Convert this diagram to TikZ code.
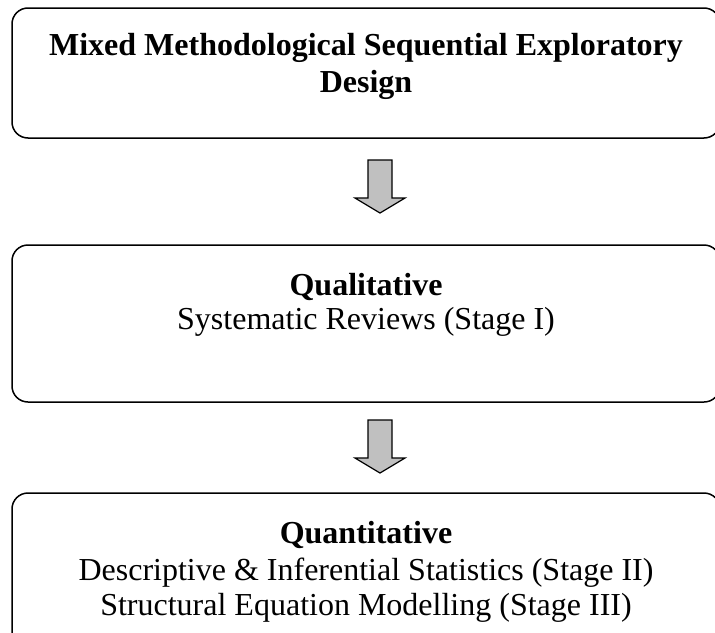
\documentclass[tikz,border=0pt]{standalone}
\usepackage{fontspec}
\setmainfont{Liberation Serif}
\usetikzlibrary{positioning}

\definecolor{arrowgray}{RGB}{192,192,192}

\tikzset{
  stagebox/.style={draw, line width=1.5pt, rounded corners=16pt, inner sep=0pt},
  boxtext/.style={anchor=base, inner sep=0pt, font=\fontsize{32}{37}\selectfont},
  boxhead/.style={boxtext, font=\fontsize{32}{37}\selectfont\bfseries},
  downarrow/.style={draw, line width=1.2pt, fill=arrowgray, line join=miter},
}

\begin{document}
\begin{tikzpicture}[x=1pt, y=-1pt]
  \clip (0,0) rectangle (715,632);
  \fill[white] (0,0) rectangle (715,632);

  % the three stages
  \node[stagebox, minimum width=708pt, minimum height=130pt] (mixed) at (366,73) {};
  \node[stagebox, minimum width=708pt, minimum height=157pt] (qual) at (366,323.5) {};
  \node[stagebox, minimum width=708pt, minimum height=157pt] (quant) at (366,571.5) {};

  \node[boxhead] (mixedA) at (366,55) {Mixed Methodological Sequential Exploratory};
  \node[boxhead] (mixedB) at (366,92) {Design};

  \node[boxhead] (qualA) at (366,295) {Qualitative};
  \node[boxtext] (qualB) at (366,329) {Systematic Reviews (Stage I)};

  \node[boxhead] (quantA) at (366,543) {Quantitative};
  \node[boxtext] (quantB) at (366,580) {Descriptive \& Inferential Statistics (Stage II)};
  \node[boxtext] (quantC) at (366,615) {Structural Equation Modelling (Stage III)};

  % block arrows between the stages
  \coordinate (arrA) at (380,160);
  \coordinate (arrB) at (380,420);
  \foreach \a in {arrA, arrB}
    \draw[downarrow] (\a) ++(-12,0) -- ++(24,0) -- ++(0,38) -- ++(13,0)
      -- ++(-25,15) -- ++(-25,-15) -- ++(13,0) -- cycle;
\end{tikzpicture}
\end{document}
